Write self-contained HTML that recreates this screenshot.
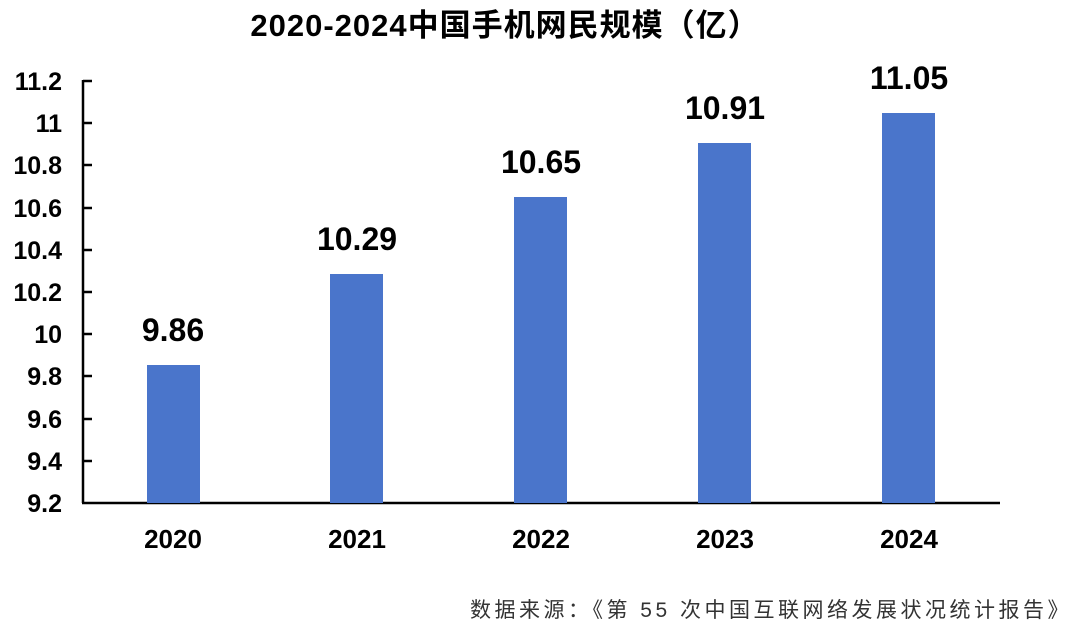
<!DOCTYPE html>
<html><head><meta charset="utf-8"><style>body{margin:0;background:#fff}</style></head><body>
<svg width="1080" height="632" xmlns="http://www.w3.org/2000/svg" font-family="'Liberation Sans','Noto Sans CJK SC',sans-serif">
<rect width="1080" height="632" fill="#fff"/>
<text x="505" y="36" text-anchor="middle" font-size="31" font-weight="bold" letter-spacing="1">2020-2024中国手机网民规模（亿）</text>
<g stroke="#000" stroke-width="2.5" fill="none">
<line x1="83" y1="80" x2="83" y2="503"/>
<line x1="82" y1="503" x2="1000" y2="503"/>
<line x1="83" y1="81" x2="92" y2="81"/><line x1="83" y1="123" x2="92" y2="123"/><line x1="83" y1="165" x2="92" y2="165"/><line x1="83" y1="208" x2="92" y2="208"/><line x1="83" y1="250" x2="92" y2="250"/><line x1="83" y1="292" x2="92" y2="292"/><line x1="83" y1="334" x2="92" y2="334"/><line x1="83" y1="376" x2="92" y2="376"/><line x1="83" y1="419" x2="92" y2="419"/><line x1="83" y1="461" x2="92" y2="461"/>
</g>
<g font-size="25" font-weight="bold" text-anchor="end">
<text x="62" y="90">11.2</text><text x="62" y="132">11</text><text x="62" y="174">10.8</text><text x="62" y="217">10.6</text><text x="62" y="259">10.4</text><text x="62" y="301">10.2</text><text x="62" y="343">10</text><text x="62" y="385">9.8</text><text x="62" y="428">9.6</text><text x="62" y="470">9.4</text><text x="62" y="512">9.2</text>
</g>
<g fill="#4a75cb">
<rect x="147" y="365" width="53" height="138"/>
<rect x="330" y="274" width="53" height="229"/>
<rect x="514" y="197" width="53" height="306"/>
<rect x="698" y="143" width="53" height="360"/>
<rect x="882" y="113" width="53" height="390"/>
</g>
<g font-size="32" font-weight="bold" text-anchor="middle">
<text x="173" y="341">9.86</text><text x="357" y="250">10.29</text><text x="541" y="173">10.65</text><text x="725" y="119">10.91</text><text x="909" y="89">11.05</text>
</g>
<g font-size="26" font-weight="bold" text-anchor="middle">
<text x="173" y="548">2020</text><text x="357" y="548">2021</text><text x="541" y="548">2022</text><text x="725" y="548">2023</text><text x="909" y="548">2024</text>
</g>
<text x="1072" y="617" text-anchor="end" font-size="21" letter-spacing="3.5" fill="#333">数据来源：《第 55 次中国互联网络发展状况统计报告》</text>
</svg>
</body></html>
